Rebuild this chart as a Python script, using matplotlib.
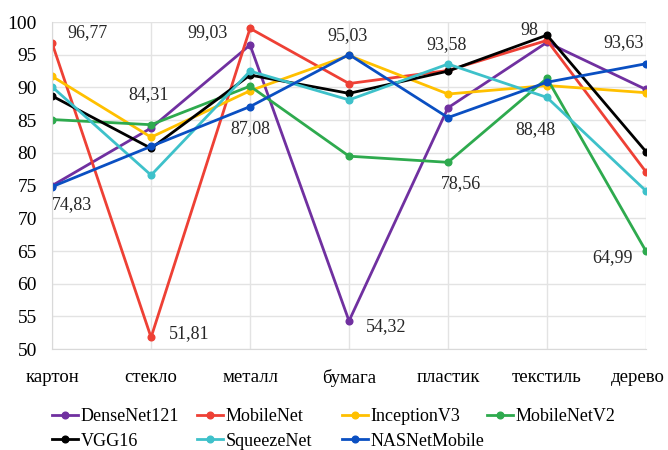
import matplotlib
matplotlib.use("Agg")
import matplotlib.pyplot as plt
from matplotlib.transforms import ScaledTranslation

plt.rcParams['font.family'] = ['Liberation Serif', 'DejaVu Serif']

categories = ['картон', 'стекло', 'металл', 'бумага', 'пластик', 'текстиль', 'дерево']

densenet121 = [75.0, 83.8, 96.5, 54.32, 86.9, 96.9, 89.7]
mobilenet = [96.77, 51.81, 99.03, 90.6, 92.6, 97.2, 77.1]
inceptionv3 = [91.7, 82.4, 89.5, 94.9, 89.0, 90.3, 89.2]
mobilenetv2 = [85.1, 84.31, 90.2, 79.5, 78.56, 91.4, 64.99]
vgg16 = [88.7, 80.7, 91.9, 89.1, 92.5, 98.0, 80.2]
squeezenet = [90.1, 76.6, 92.5, 88.1, 93.58, 88.48, 74.2]
nasnetmobile = [74.83, 81.0, 87.08, 95.03, 85.4, 90.8, 93.63]

series = [
    ('DenseNet121', densenet121, '#7030A0'),
    ('MobileNet', mobilenet, '#EE4035'),
    ('InceptionV3', inceptionv3, '#FFC000'),
    ('MobileNetV2', mobilenetv2, '#2EAA4E'),
    ('VGG16', vgg16, '#000000'),
    ('SqueezeNet', squeezenet, '#3EC1CA'),
    ('NASNetMobile', nasnetmobile, '#0A4FC2'),
]

# подписи значений: (категория, значение, смещение в пунктах, выравнивание)
labels = [
    (0, 96.77, (10.8, 7.9), 'left'),
    (0, 74.83, (0, -13), 'left'),
    (1, 84.31, (-1.5, 21.6), 'center'),
    (1, 51.81, (13, 3), 'left'),
    (2, 99.03, (-16, -3), 'right'),
    (2, 87.08, (0, -15.5), 'center'),
    (3, 95.03, (-1, 14), 'center'),
    (3, 54.32, (12, -4.3), 'left'),
    (4, 93.58, (-1, 13.7), 'center'),
    (4, 78.56, (9.4, -15), 'center'),
    (5, 98.0, (-13, 3.6), 'center'),
    (5, 88.48, (-8.6, -23), 'center'),
    (6, 93.63, (-16, 15), 'center'),
    (6, 64.99, (-9.4, -5), 'right'),
]

fig = plt.figure(figsize=(6.68, 4.5), dpi=100)
ax = fig.add_axes([0.078, 0.224, 0.889, 0.727])

x = list(range(len(categories)))
lines = {}
for name, vals, color in series:
    ln, = ax.plot(x, vals, color=color, lw=2.0, marker='o', ms=4.8, label=name)
    lines[name] = ln

for i, v, off, ha in labels:
    ax.annotate(f"{v:g}".replace('.', ','), (i, v), xytext=off, textcoords='offset points',
                ha=ha, va='center', fontsize=13, color='#262626')

ax.set_xlim(0, 6)
ax.set_ylim(50, 100)
ax.set_yticks(range(50, 101, 5))
ax.set_xticks(x)
ax.set_xticklabels(categories, fontsize=13.5)
ax.tick_params(axis='y', labelsize=14, length=0, pad=11)
ax.tick_params(axis='x', length=0, pad=14)
# последняя подпись сдвинута влево, чтобы не обрезалась
last = ax.get_xticklabels()[-1]
last.set_transform(last.get_transform() + ScaledTranslation(-8 / 100, 0, fig.dpi_scale_trans))
ax.grid(True, color='#e3e3e3', lw=1)
ax.set_axisbelow(True)
for s in ['top', 'right']:
    ax.spines[s].set_visible(False)
for s in ['left', 'bottom']:
    ax.spines[s].set_color('#d9d9d9')

# легенда в виде сетки 4x2 с равными колонками
columns = [['DenseNet121', 'VGG16'], ['MobileNet', 'SqueezeNet'],
           ['InceptionV3', 'NASNetMobile'], ['MobileNetV2']]
col_x = [52, 197, 342, 487]
for names, cx in zip(columns, col_x):
    fig.legend([lines[n] for n in names], names, loc='upper left',
               bbox_to_anchor=(cx / 668, 1 - 408 / 450), frameon=False,
               fontsize=13, handlelength=1.45, handletextpad=0.12,
               labelspacing=0.42, borderpad=0, borderaxespad=0)

fig.savefig('out.png', dpi=100)
